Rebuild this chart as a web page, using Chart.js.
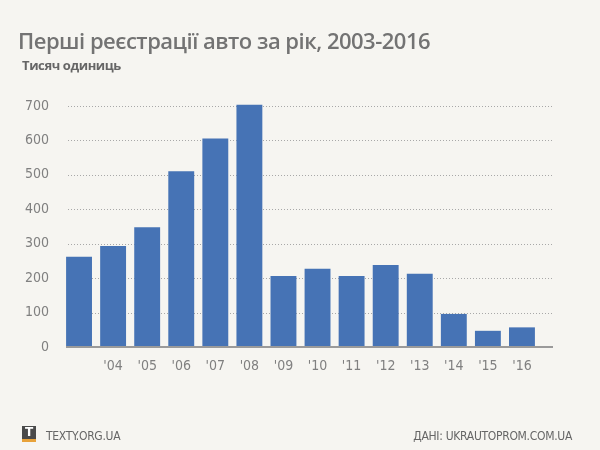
<!DOCTYPE html>
<html lang="uk">
<head>
    <meta charset="UTF-8">
    <title>Перші реєстрації авто за рік, 2003-2016</title>
    <script src="https://cdn.jsdelivr.net/npm/chart.js@4"></script>
    <style>
        body { margin: 0; background: #f6f5f1; }
        #wrap { position: relative; width: 600px; height: 450px; background: #f6f5f1; overflow: hidden; }
        #chart { position: absolute; left: 0; top: 0; }
        .title { position: absolute; left: 18px; top: 25px; font: 600 22px "Open Sans", sans-serif; color: #737373; letter-spacing: -0.5px; }
        .subtitle { position: absolute; left: 22px; top: 56px; font: bold 13px "Open Sans", sans-serif; color: #666; letter-spacing: -0.4px; }
        .foot { position: absolute; top: 429px; font: 12px "Liberation Sans Narrow", "DejaVu Sans Condensed", sans-serif; color: #666; letter-spacing: -0.3px; }
        .logo { position: absolute; left: 22px; top: 426px; width: 14px; height: 13px; background: #4a4a4a; border-bottom: 3px solid #e8a23a;
                color: #fff; font: bold 12px "DejaVu Sans", sans-serif; text-align: center; line-height: 13px; }
    </style>
</head>
<body>
<div id="wrap">
    <canvas id="chart" width="600" height="450"></canvas>
    <div class="title">Перші реєстрації авто за рік, 2003-2016</div>
    <div class="subtitle">Тисяч одиниць</div>
    <div class="logo">T</div>
    <div class="foot" style="left:46px">TEXTY.ORG.UA</div>
    <div class="foot" style="right:28px">ДАНІ: UKRAUTOPROM.COM.UA</div>
</div>
<script>
    // data, thousand units
    const years = ['', "'04", "'05", "'06", "'07", "'08", "'09", "'10", "'11", "'12", "'13", "'14", "'15", "'16"];
    const registrations = [262, 293, 348, 510, 605, 703, 206, 227, 206, 238, 213, 96, 47, 57];
    const yTicks = [0, 100, 200, 300, 400, 500, 600, 700];

    const tickFont = { family: '"Liberation Sans Narrow", "DejaVu Sans Condensed", sans-serif', size: 14 };

    // dotted grid and baseline, drawn a bit wider than the bars
    const gridPlugin = {
        id: 'dottedGrid',
        beforeDatasetsDraw(chart) {
            const ctx = chart.ctx;
            const y = chart.scales.y;
            ctx.save();
            ctx.strokeStyle = '#a8a8a8';
            ctx.lineWidth = 1;
            ctx.setLineDash([1, 2]);
            yTicks.forEach(v => {
                if (v === 0) return;
                const py = Math.round(y.getPixelForValue(v)) + 0.5;
                ctx.beginPath();
                ctx.moveTo(68, py);
                ctx.lineTo(553, py);
                ctx.stroke();
            });
            ctx.restore();
        },
        afterDatasetsDraw(chart) {
            const ctx = chart.ctx;
            const py = chart.scales.y.getPixelForValue(0);
            ctx.save();
            ctx.strokeStyle = '#9a9a9a';
            ctx.lineWidth = 2;
            ctx.beginPath();
            ctx.moveTo(66, py);
            ctx.lineTo(553, py);
            ctx.stroke();
            ctx.restore();
        }
    };

    new Chart(document.getElementById('chart'), {
        type: 'bar',
        data: {
            labels: years,
            datasets: [{
                data: registrations,
                backgroundColor: '#4673b5',
                borderWidth: 0,
                barPercentage: 0.76,
                categoryPercentage: 1
            }]
        },
        options: {
            responsive: false,
            animation: false,
            layout: { padding: { left: 0, right: 61, top: 99, bottom: 71 } },
            plugins: { legend: { display: false }, tooltip: { enabled: false } },
            scales: {
                x: {
                    grid: { display: false },
                    border: { display: false },
                    ticks: { color: '#808080', font: tickFont, padding: 3, maxRotation: 0, autoSkip: false },
                    afterFit(scale) { scale.height = 32; }
                },
                y: {
                    min: 0,
                    max: 720,
                    grid: { display: false },
                    border: { display: false },
                    afterBuildTicks(scale) { scale.ticks = yTicks.map(v => ({ value: v })); },
                    ticks: { color: '#808080', font: tickFont, padding: 5 },
                    afterFit(scale) { scale.width = 62; }
                }
            }
        },
        plugins: [gridPlugin]
    });
</script>
</body>
</html>
